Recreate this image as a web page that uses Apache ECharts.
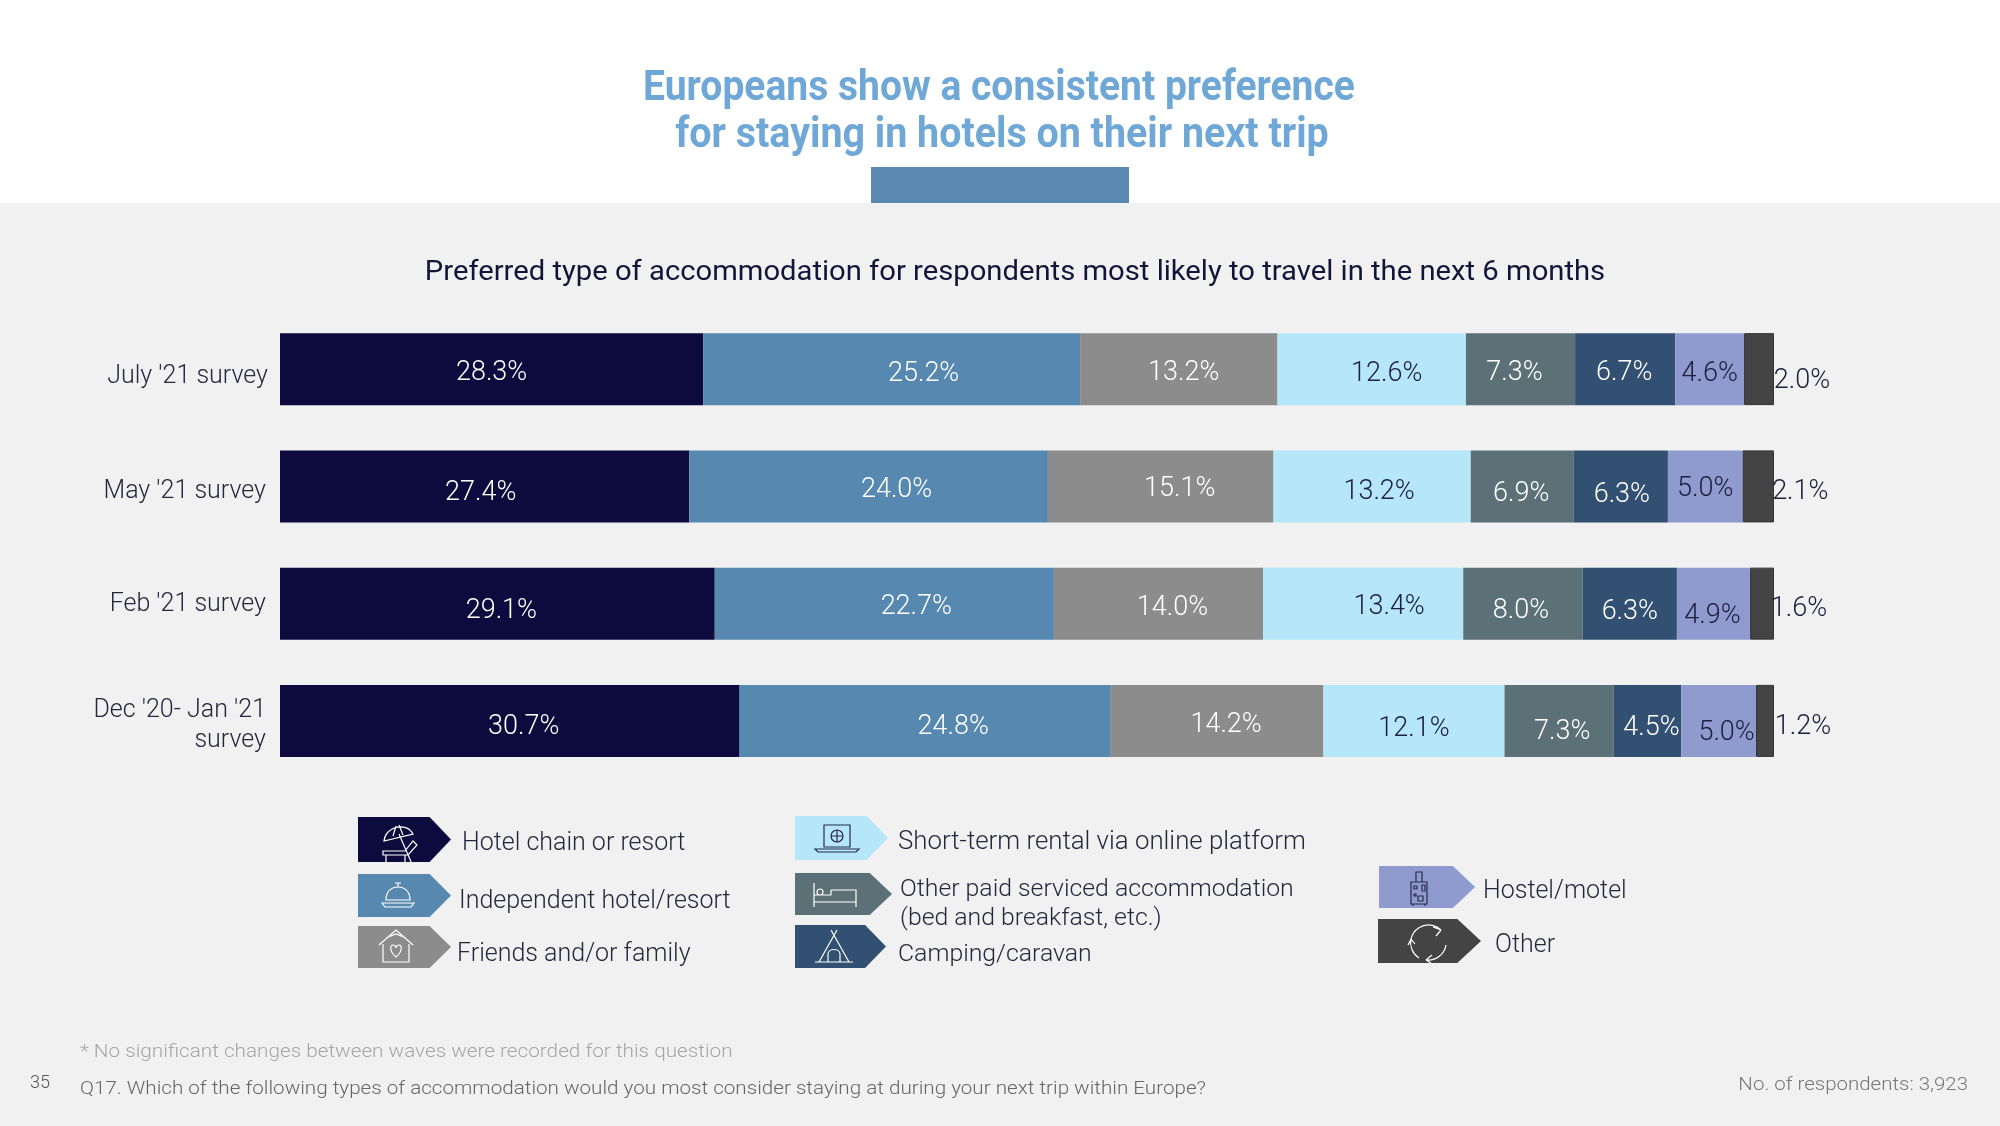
<!DOCTYPE html>
<html><head><meta charset="utf-8">
<style>html,body{margin:0;padding:0;background:#fff}#c{width:2000px;height:1126px}</style>
<script src="https://cdn.jsdelivr.net/npm/echarts@6/dist/echarts.min.js"></script>
</head><body><div id="c"></div>
<script>
const categories = ["July '21 survey","May '21 survey","Feb '21 survey","Dec '20- Jan '21\nsurvey"];
const seriesNames = ["Hotel chain or resort","Independent hotel/resort","Friends and/or family","Short-term rental via online platform","Other paid serviced accommodation\n(bed and breakfast, etc.)","Camping/caravan","Hostel/motel","Other"];
const hotelChain = [28.3,27.4,29.1,30.7];
const independent = [25.2,24.0,22.7,24.8];
const friends = [13.2,15.1,14.0,14.2];
const shortTerm = [12.6,13.2,13.4,12.1];
const otherPaid = [7.3,6.9,8.0,7.3];
const camping = [6.7,6.3,6.3,4.5];
const hostel = [4.6,5.0,4.9,5.0];
const other = [2.0,2.1,1.6,1.2];
const values = [hotelChain,independent,friends,shortTerm,otherPaid,camping,hostel,other];
const colors = ['#0d0b3d','#5688b0','#8c8c8c','#b5e7f8','#5c7177','#315072','#8f9bcf','#444444'];
const labelColors = ['#fff','#fff','#fff','#20203f','#fff','#fff','#20203f','#20203f'];
// hand-placed label nudges of the source slide (px), per series then per row
const nudgeX = [[0,-4,4,14],[32,28,32,28],[5,19,14,9],[15,7,26,0],[-6,-1,-2,3],[-1,1,0,4],[0,0,-1,8],[43,42,37,38]];
const nudgeY = [[4,7,8,6],[5,4,4,6],[4,3,5,4],[5,6,4,8],[4,8,8,11],[4,9,9,7],[5,3,13,12],[12,6,6,6]];
const categoryPadTop = [15,10,2,10];
const categoryPadRight = [0,2,2,2];
// each row is a 100% stacked bar: shares are normalised to the row's printed sum
const rowSum = categories.map((_,r)=>values.reduce((s,v)=>s+v[r],0));

const FONT = 'Roboto';
const arrow = 'path://M0 0H77L100 50L77 100H0Z';
// left, top, symbol width, symbol height, text gap, text shift, font size
const legendSpots = [
 [358,817,93,45,11,8,25],[358,874,93,43,8,12,25],[358,926,93,42,6,16,25],
 [795,816,93,44,10,10,25.8],[795,873,97,42,8,21,24.8],[795,925,91,43,12,16,24.8],
 [1379,866,96,42,8,10,25],[1378,919,103,44,14,10,25]];
const legends = seriesNames.map((n,i)=>{
  const [x,y,w,h,gap,shift,size] = legendSpots[i];
  const base = {fontFamily:FONT,fontSize:size,fontWeight:300,color:'#26263c'};
  return {data:[n],left:x,top:y,padding:0,itemWidth:w,itemHeight:h,icon:arrow,symbolKeepAspect:false,
    selectedMode:false,itemStyle:{borderWidth:0},
    formatter:t=>t.split('\n').map((l,k)=>'{'+(k?'b':'a')+'|'+l+'}').join('\n'),
    textStyle:{fontFamily:FONT,fontSize:size,fontWeight:300,color:'#26263c',
      rich:{a:{...base,padding:[shift,0,0,gap-5]},b:{...base,padding:[4,0,0,gap-5]}}}};
});
const iconDefs = [
 [400,845,'M-16 -4C-15 -18 6 -24 13 -11Z M-7 -9L-4 -19 M3 -10L-1 -20 M-1 -11L12 19 M-17 6H5L13 -4L17 0L8 10H-17Z M-14 10V18 M5 10V18','#fff'],
 [398,895,'M-12 5C-12 -6 -4 -8 0 -8C4 -8 12 -6 12 5Z M0 -8V-12 M-3 -12H3 M-16 8H16L13 12H-13Z','#fff'],
 [396,947,'M-17 -2L0 -17L17 -2 M-13 -3V15H13V-3 M-10 -9L0 -13L10 -9 M0 10C-7 4 -6 -2 -3 -2C-1 -2 0 0 0 1C0 0 1 -2 3 -2C6 -2 7 4 0 10Z','#fff'],
 [837,838,'M-13 -13H13V9H-13Z M-22 11H22L19 14H-19Z M6 -2A6 6 0 1 1 -6 -2A6 6 0 1 1 6 -2Z M-6 -2H6 M0 -8V4','#2a2a4a'],
 [835,895,'M-21 -12V12 M-21 7H21V12 M-4 -5H21V7 M-21 0H-4V-5 M-18 -3A2.5 2.5 0 1 1 -12 -3A2.5 2.5 0 1 1 -18 -3','#fff'],
 [834,947,'M-3 -17L15 15 M3 -17L-15 15 M-19 15H19 M-6 15V7C-6 1 6 1 6 7V15','#fff'],
 [1419,889,'M-8 -7H8V15H-8Z M-3 -7V-17H3V-7 M-6 15V17 M6 15V17 M3 -4H6V2H3Z M-1 7H4V12H-1Z M-5 5H-3V7H-5Z M-5 -3H-2V0H-5Z','#2a2a4a'],
 [1428,942,'M-17 -3A18 18 0 0 1 13 -12 M13 -12L5 -15 M13 -12L8 -6 M18 3A18 18 0 0 1 -2 18 M-2 18L4 13 M-2 18L3 21 M-9 16A18 18 0 0 1 -17 -3 M-17 -3L-20 3 M-17 -3L-13 2','#fff']
];
const iconGraphics = iconDefs.map((d,i)=>{
  echarts.graphic.registerShape('legendIcon'+i, echarts.graphic.extendPath(d[2],{}));
  return {type:'legendIcon'+i,x:d[0],y:d[1],z:20,silent:true,style:{fill:'none',stroke:d[3],lineWidth:1.2}};
});
const txt=(x,y,t,size,color,align,weight,scaleX)=>({type:'text',x:x,y:y,z:30,scaleX:scaleX||1,silent:true,
  style:{text:t,fontFamily:FONT,fontSize:size,fontWeight:weight||300,fill:color,align:align||'left',verticalAlign:'middle'}});

const graphics = [
 {type:'rect',z:-10,silent:true,shape:{x:0,y:203,width:2000,height:923},style:{fill:'#f1f1f2'}},
 {type:'rect',z:-9,silent:true,shape:{x:871,y:167,width:258,height:36},style:{fill:'#5a8ab2'}},
 txt(999,89,'Europeans show a consistent preference',42,'#6fa8d6','center',700,0.93),
 txt(1002,136,'for staying in hotels on their next trip',42,'#6fa8d6','center',700,0.938),
 txt(1015,273,'Preferred type of accommodation for respondents most likely to travel in the next 6 months',27,'#14143a','center',400,1.082),
 txt(80,1052,'* No significant changes between waves were recorded for this question',19,'#a6a6a6','left',300,1.09),
 txt(80,1089,'Q17. Which of the following types of accommodation would you most consider staying at during your next trip within Europe?',19,'#666','left',300,1.086),
 txt(30,1083,'35',18,'#555'),
 txt(1968,1085,'No. of respondents: 3,923',19,'#777','right',300,1.077)
].concat(iconGraphics);

const series = seriesNames.map((n,s)=>({
  name:n,type:'bar',stack:'all',barWidth:72,
  itemStyle:s===7?{color:colors[s],borderColor:'#333336',borderWidth:1}:{color:colors[s]},
  label:{show:true,position:'inside',fontFamily:FONT,fontSize:27,fontWeight:300,color:labelColors[s],
    formatter:p=>p.data.printed.toFixed(1)+'%'},
  data:values[s].map((v,r)=>({value:v/rowSum[r]*100,printed:v,label:{offset:[nudgeX[s][r],nudgeY[s][r]]}}))
}));

const axisBase = {fontFamily:FONT,fontSize:25,fontWeight:300,color:'#26263c'};
const axisRich = {n:{...axisBase,padding:[5,2,0,0]}};
categories.forEach((c,i)=>{axisRich['c'+i]={...axisBase,padding:[categoryPadTop[i],categoryPadRight[i],0,0]};});

const chart = echarts.init(document.getElementById('c'),null,{renderer:'canvas'});
chart.setOption({
  animation:false,
  backgroundColor:'#fff',
  graphic:graphics,
  legend:legends,
  grid:{left:280,top:310.5,width:1494,height:469,containLabel:false},
  xAxis:{type:'value',min:0,max:100,show:false},
  yAxis:{type:'category',inverse:true,data:categories,axisLine:{show:false},axisTick:{show:false},
    axisLabel:{margin:12,align:'right',rich:axisRich,
      formatter:(v,i)=>v.split('\n').map((l,k)=>'{'+(k?'n':'c'+i)+'|'+l+'}').join('\n')}},
  series:series
});
</script></body></html>
